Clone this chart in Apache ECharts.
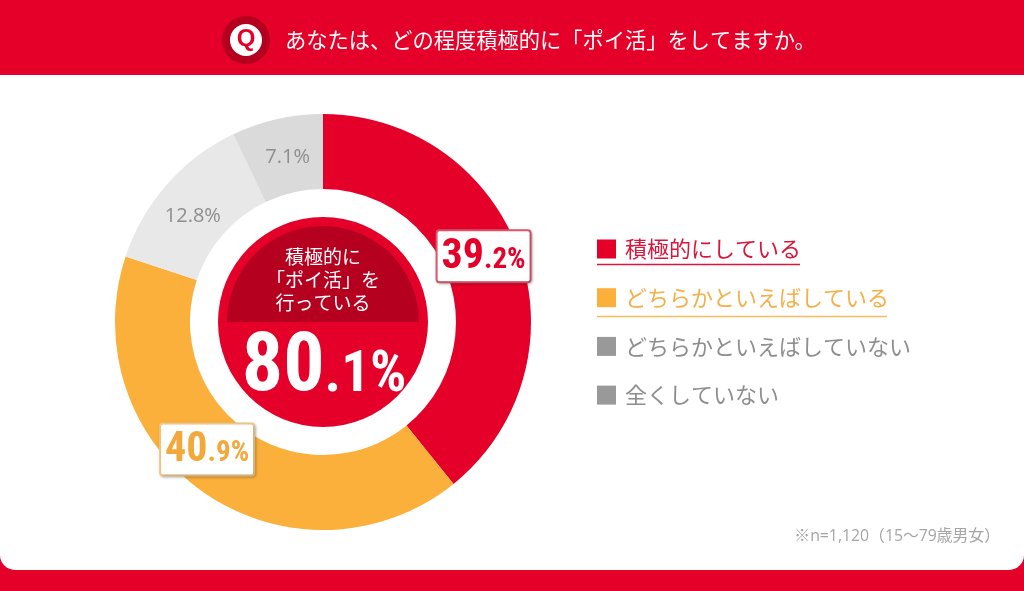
<!DOCTYPE html>
<html><head><meta charset="utf-8">
<style>html,body{margin:0;padding:0;background:#fff}#c{width:1024px;height:591px}</style>
<script src="https://cdn.jsdelivr.net/npm/echarts@6/dist/echarts.min.js"></script>
</head><body><div id="c"></div>
<script>
var categories = ['積極的にしている','どちらかといえばしている','どちらかといえばしていない','全くしていない'];
var values = [39.2, 40.9, 12.8, 7.1];
var sliceColors = ['#e50029','#fbb03b','#e8e8e8','#dadada'];
var legendMarkColors = ['#e50029','#fbb03b','#999999','#999999'];
var legendTextColors = ['#d9163c','#f5b04a','#8e8e8e','#8e8e8e'];
var titleText = 'あなたは、どの程度積極的に「ポイ活」をしてますか。';
var centerLines = ['積極的に','「ポイ活」を','行っている'];
var centerTotal = ['80','.1%'];
var note = '※n=1,120（15～79歳男女）';
var JP = '"Noto Sans CJK JP","Noto Sans",sans-serif';
var NUM = '"Roboto Condensed","Liberation Sans",sans-serif';
var RED = '#e50029';

function split(v){ var s = v.toFixed(1).split('.'); return [s[0], '.'+s[1]+'%']; }
function big(color){return {fontFamily:NUM,fontWeight:'bold',fontSize:42,color:color,lineHeight:44,verticalAlign:'bottom'};}
function small(color){return {fontFamily:NUM,fontWeight:'bold',fontSize:29,color:color,lineHeight:44,verticalAlign:'bottom',padding:[0,0,3,0]};}
var labels = [
 {show:true,position:'inside',offset:[-3,-8],backgroundColor:'#fff',borderColor:'#e0576f',borderWidth:2,borderRadius:2,padding:[3,4,3,4],
  shadowColor:'rgba(0,0,0,.25)',shadowBlur:3,shadowOffsetX:1,shadowOffsetY:1,
  formatter:function(){var p=split(values[0]);return '{a|'+p[0]+'}{b|'+p[1]+'}';},
  rich:{a:big('#e50029'),b:small('#e50029')}},
 {show:true,position:'inside',offset:[-17,-15],backgroundColor:'#fff',borderColor:'#f4c98a',borderWidth:2,borderRadius:2,padding:[3,4,3,4],
  shadowColor:'rgba(0,0,0,.25)',shadowBlur:3,shadowOffsetX:1,shadowOffsetY:1,
  formatter:function(){var p=split(values[1]);return '{a|'+p[0]+'}{b|'+p[1]+'}';},
  rich:{a:big('#f2a93b'),b:small('#f2a93b')}},
 {show:true,position:'inside',offset:[0,9],color:'#8e8e8e',fontFamily:'"Open Sans",'+JP,fontSize:20,formatter:function(){return values[2].toFixed(1)+'%';}},
 {show:true,position:'inside',offset:[3,4],color:'#8e8e8e',fontFamily:'"Open Sans",'+JP,fontSize:20,formatter:function(){return values[3].toFixed(1)+'%';}}
];

var chart = echarts.init(document.getElementById('c'),null,{renderer:'canvas'});
chart.setOption({
 animation:false,
 backgroundColor:RED,
 title:[
  {text:titleText,left:285,top:26,textStyle:{color:'#fff',fontFamily:JP,fontWeight:'normal',fontSize:21.25,lineHeight:28},padding:0,z:10},
  {text:note,right:24,top:529,textStyle:{color:'#a5a5a5',fontFamily:'"Open Sans",'+JP,fontWeight:'normal',fontSize:15.8},padding:0}
 ],
 legend:{
  orient:'vertical',left:597,top:234,padding:0,itemWidth:19,itemHeight:19,itemGap:18.7,selectedMode:false,
  icon:'rect',
  textStyle:{fontFamily:JP,fontSize:22,lineHeight:30,padding:[0,0,0,4]},
  itemStyle:{borderWidth:0},
  data:categories.map(function(n,i){return {name:n,itemStyle:{color:legendMarkColors[i]},textStyle:{color:legendTextColors[i]}};})
 },
 series:[{
  type:'pie',center:[323,322],radius:[133,208],startAngle:90,clockwise:true,silent:true,
  label:{show:true},labelLine:{show:false},
  data:categories.map(function(n,i){return {name:n,value:values[i],itemStyle:{color:sliceColors[i]},label:labels[i],labelLine:{show:false}};})
 }],
 graphic:[
  {type:'rect',shape:{x:0,y:75,width:1024,height:495,r:[0,0,15,15]},style:{fill:'#fff'},z:0},
  {type:'circle',shape:{cx:246,cy:40,r:24},style:{fill:'#b4001e'},z:1},
  {type:'circle',shape:{cx:246,cy:40,r:16},style:{fill:'#fff'},z:2},
  {type:'text',style:{x:246,y:39,text:'Q',fill:RED,font:'900 24px "Liberation Sans"',textAlign:'center',textVerticalAlign:'middle'},z:3},
  {type:'circle',shape:{cx:323,cy:322,r:105},style:{fill:RED},z:5},
  {type:'sector',shape:{cx:323,cy:322,r:96,r0:0,startAngle:Math.PI,endAngle:2*Math.PI},style:{fill:'#b5001f'},z:6},
  {type:'text',z:7,style:{x:323,y:257,text:centerLines[0],fill:'#fff',font:'19px '+JP,textAlign:'center',textVerticalAlign:'middle'}},
  {type:'text',z:7,style:{x:323,y:280,text:centerLines[1],fill:'#fff',font:'19px '+JP,textAlign:'center',textVerticalAlign:'middle'}},
  {type:'text',z:7,style:{x:323,y:303,text:centerLines[2],fill:'#fff',font:'19px '+JP,textAlign:'center',textVerticalAlign:'middle'}},
  {type:'text',z:7,style:{x:324,y:410,text:'{a|'+centerTotal[0]+'}{b|'+centerTotal[1]+'}',textAlign:'center',textVerticalAlign:'bottom',
     rich:{a:{fill:'#fff',fontFamily:NUM,fontWeight:'bold',fontSize:82,lineHeight:90,verticalAlign:'bottom'},b:{fill:'#fff',fontFamily:NUM,fontWeight:'bold',fontSize:57,lineHeight:90,verticalAlign:'bottom',padding:[0,0,5,0]}}}},
  {type:'line',shape:{x1:597,y1:264.5,x2:800,y2:264.5},style:{stroke:'#d9163c',lineWidth:1.5},z:4},
  {type:'line',shape:{x1:597,y1:316.5,x2:887,y2:316.5},style:{stroke:'#f7bc5e',lineWidth:1.5},z:4}
 ]
});
</script></body></html>
